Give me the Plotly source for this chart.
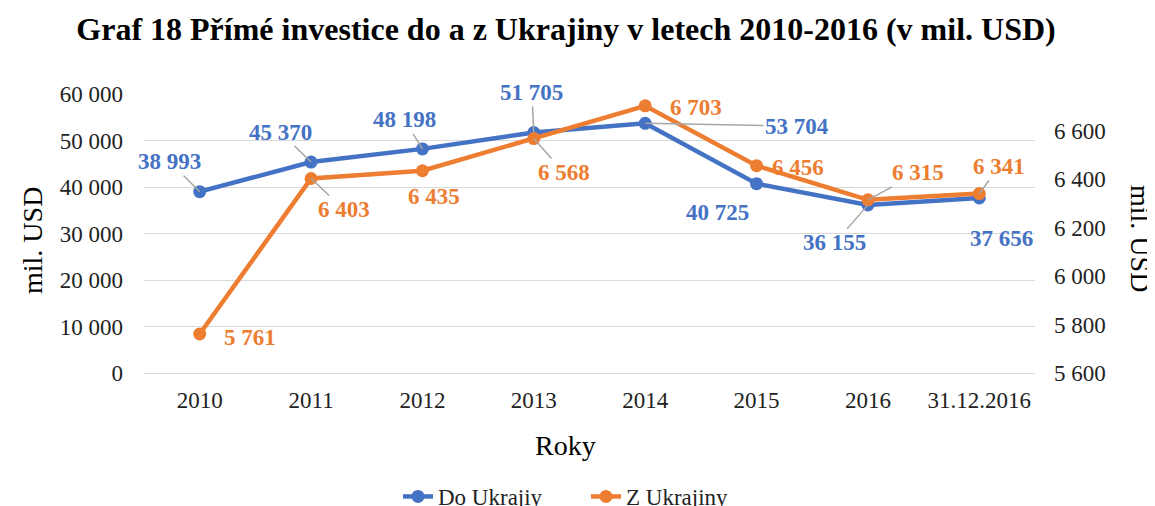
import plotly.graph_objects as go

categories = ["2010", "2011", "2012", "2013", "2014", "2015", "2016", "31.12.2016"]
do_ukrajiny = [38993, 45370, 48198, 51705, 53704, 40725, 36155, 37656]
z_ukrajiny = [5761, 6403, 6435, 6568, 6703, 6456, 6315, 6341]

# label offsets (pixels) and whether a leader line is drawn
blue_offsets = [(-30, -30, True), (-31, -30, True), (-18, -29, True), (-2, -40, True),
                (152, 3, True), (-39, 29, False), (-33, 38, True), (22, 41, True)]
orange_offsets = [(50, 3, False), (33, 31, True), (12, 26, False), (30, 34, True),
                  (51, 2, False), (41, 2, False), (50, -27, True), (20, -27, True)]

BLUE = "#4472C4"
ORANGE = "#ED7D31"
FONT = "Liberation Serif"

W, H = 1147, 498
L, R, T, B = 136, 120, 86, 133
PW, PH = W - L - R, H - T - B


def fmt(v):
    return f"{v:,}".replace(",", " ")


def px(xr):
    return (xr - 8 - L) / PW


def py(yr):
    return (H - B - (yr - 8)) / PH


fig = go.Figure()
fig.add_trace(go.Scatter(
    x=categories, y=do_ukrajiny, name="Do Ukrajiy", mode="lines+markers",
    line=dict(color=BLUE, width=4.5), marker=dict(color=BLUE, size=13), yaxis="y"))
fig.add_trace(go.Scatter(
    x=categories, y=z_ukrajiny, name="Z Ukrajiny", mode="lines+markers",
    line=dict(color=ORANGE, width=4.5), marker=dict(color=ORANGE, size=13), yaxis="y2"))

annotations = []
for series, yref, color, offsets in ((do_ukrajiny, "y", BLUE, blue_offsets),
                                      (z_ukrajiny, "y2", ORANGE, orange_offsets)):
    for i, (v, (dx, dy, lead)) in enumerate(zip(series, offsets)):
        a = dict(x=i, y=v, xref="x", yref=yref, text="<b>" + fmt(v) + "</b>",
                 font=dict(family=FONT, size=23, color=color))
        if lead:
            a.update(showarrow=True, ax=dx, ay=dy, arrowhead=0, arrowwidth=1.5,
                     arrowcolor="#A6A6A6", standoff=0)
        else:
            a.update(showarrow=False, xshift=dx, yshift=-dy)
        annotations.append(a)

# axis titles
title_font = dict(family=FONT, size=28, color="#000")
annotations.append(dict(text="mil. USD", x=px(32), y=py(240), xref="paper", yref="paper",
                        xanchor="center", yanchor="middle",
                        showarrow=False, textangle=-90, font=title_font))
annotations.append(dict(text="mil. USD", x=px(1141), y=py(238), xref="paper", yref="paper",
                        xanchor="center", yanchor="middle",
                        showarrow=False, textangle=90, font=title_font))
annotations.append(dict(text="Roky", x=px(565), y=py(445), xref="paper", yref="paper",
                        xanchor="center", yanchor="middle",
                        showarrow=False, font=title_font))

fig.update_layout(
    width=W, height=H,
    margin=dict(l=L, r=R, t=T, b=B, autoexpand=False),
    paper_bgcolor="white", plot_bgcolor="white",
    separators=", ",
    font=dict(family=FONT, color="#000"),
    title=dict(text="<b>Graf 18 Přímé investice do a z Ukrajiny v letech 2010-2016 (v mil. USD)</b>",
               x=(566 - 8) / W, xanchor="center", y=1 - (29 - 8) / H, yanchor="middle",
               font=dict(family=FONT, size=32, color="#000")),
    xaxis=dict(type="category", range=[-0.5, 7.5], showgrid=False, showline=False, zeroline=False,
               tickfont=dict(family=FONT, size=23, color="#222"), ticks="", ticklabelstandoff=11,
               tickangle=0, automargin=False),
    yaxis=dict(range=[0, 60000], dtick=10000, tickformat=",", showgrid=True, gridcolor="#D9D9D9",
               gridwidth=1.3, zeroline=True, zerolinecolor="#D9D9D9", zerolinewidth=1.3,
               showline=False, ticks="", ticklabelstandoff=20, automargin=False,
               tickfont=dict(family=FONT, size=23, color="#222")),
    yaxis2=dict(range=[5600, 6752], dtick=200, tickformat=",", overlaying="y", side="right",
                showgrid=False, zeroline=False, showline=False, ticks="", ticklabelstandoff=18,
                automargin=False, tickfont=dict(family=FONT, size=23, color="#222")),
    legend=dict(orientation="h", x=px(586), xanchor="center",
                y=py(475), yanchor="top", font=dict(family=FONT, size=23, color="#222"),
                traceorder="normal", entrywidth=143, entrywidthmode="pixels"),
    annotations=annotations,
)

fig.write_html("out.html")
